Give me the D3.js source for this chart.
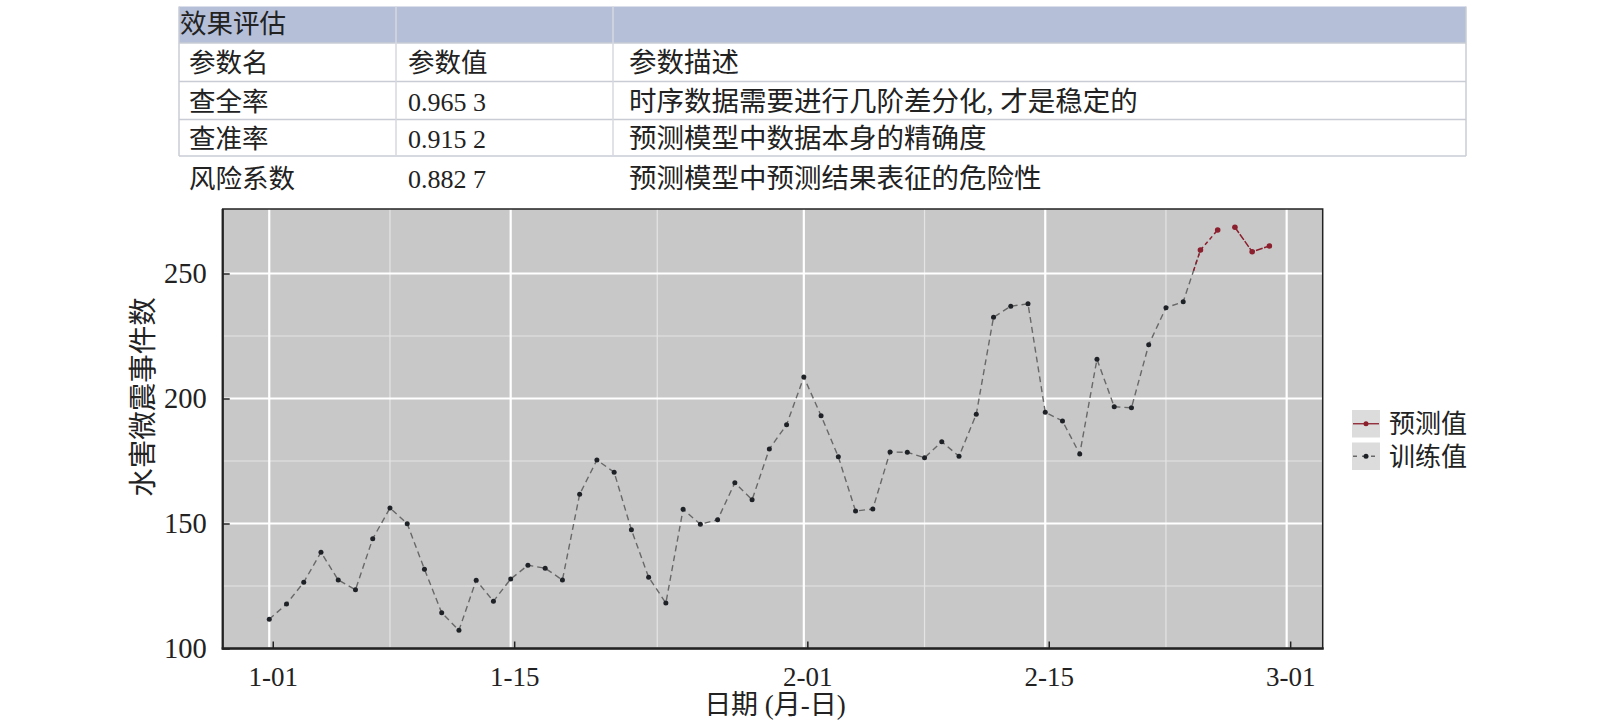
<!DOCTYPE html>
<html>
<head>
<meta charset="utf-8">
<script src="https://cdn.jsdelivr.net/npm/d3@7"></script>
<style>
  body { margin: 0; background: #fff; }
  svg text { font-family: "Liberation Serif", "Noto Sans CJK SC", serif; fill: #222; }
</style>
</head>
<body>
<div id="chart-container"></div>
<script>
// table content
var tableTitle = "效果评估";
var tableCols = ["参数名", "参数值", "参数描述"];
var paramNames = ["查全率", "查准率", "风险系数"];
var paramValues = ["0.965 3", "0.915 2", "0.882 7"];
var paramDesc = ["时序数据需要进行几阶差分化, 才是稳定的", "预测模型中数据本身的精确度", "预测模型中预测结果表征的危险性"];

// training series: one value per day from 1-01 to 2-24 (last point joins the forecast)
var trainStart = "2021-01-01";
var trainValues = [111.7, 117.8, 126.5, 138.5, 127.4, 123.5, 143.9, 156.2, 149.9, 131.7,
  114.3, 107.3, 127.3, 118.9, 127.8, 133.3, 132.1, 127.4, 161.7, 175.4,
  170.5, 147.5, 128.5, 118.2, 155.7, 149.7, 151.5, 166.3, 159.5, 179.8,
  189.5, 208.6, 193.1, 176.7, 155.0, 155.8, 178.6, 178.5, 176.3, 182.7,
  176.9, 193.7, 232.5, 236.9, 237.9, 194.5, 191.0, 177.8, 215.7, 196.7,
  196.3, 221.5, 236.3, 238.7, 259.4];

// forecast series 2-24 .. 2-28, seg = which line piece it belongs to
var predDates = ["2021-02-24", "2021-02-25", "2021-02-26", "2021-02-27", "2021-02-28"];
var predValues = [259.4, 267.4, 268.5, 258.7, 261.0];
var predSeg = [1, 1, 2, 2, 2];

var xTickDates = ["2021-01-01", "2021-01-15", "2021-02-01", "2021-02-15", "2021-03-01"];
var xTickLabels = ["1-01", "1-15", "2-01", "2-15", "3-01"];
var xMinorDates = ["2021-01-08T00:00", "2021-01-23T12:00", "2021-02-08T00:00", "2021-02-22T00:00"];
var yTicks = [100, 150, 200, 250];
var yMinor = [125, 175, 225];
var legendLabels = ["预测值", "训练值"];

var width = 1600, height = 723;
var plot = {left: 222.7, right: 1322.7, top: 209, bottom: 648.5};
var trainColor = "#686868", predColor = "#8c1f2d";

var parse = d3.utcParse("%Y-%m-%d");
var parseT = d3.utcParse("%Y-%m-%dT%H:%M");
var day = 864e5;

var svg = d3.select("#chart-container")
  .append("svg")
    .attr("width", width)
    .attr("height", height);

/* ---------- TABLE ---------- */
var tbl = {left: 179, right: 1466, x1: 396, x2: 613};
var rowY = [6.5, 43, 81.6, 119.4, 156];
var tg = svg.append("g");
tg.append("rect")
  .attr("x", tbl.left).attr("y", rowY[0])
  .attr("width", tbl.right - tbl.left).attr("height", rowY[1] - rowY[0])
  .attr("fill", "#b5bfd7");
rowY.slice(1).forEach(function(y) {
  tg.append("line").attr("x1", tbl.left).attr("x2", tbl.right).attr("y1", y).attr("y2", y)
    .attr("stroke", "#c9ccd4").attr("stroke-width", 1.5);
});
[tbl.left, tbl.x1, tbl.x2, tbl.right].forEach(function(x, i) {
  tg.append("line").attr("x1", x).attr("x2", x).attr("y1", rowY[0]).attr("y2", rowY[4])
    .attr("stroke", (i == 1 || i == 2) ? "#d6d9e0" : "#c9ccd4").attr("stroke-width", 1.5);
});
var fs = 26.5, fsNum = 26, fsDesc = 27.5;
tg.append("text").attr("x", 180).attr("y", 33).attr("font-size", fs).text(tableTitle);
var colX = [189, 408, 629];
var textY = [72, 111, 148, 188];
tableCols.forEach(function(c, i) {
  tg.append("text").attr("x", colX[i]).attr("y", textY[0]).attr("font-size", i == 2 ? fsDesc : fs).text(c);
});
paramNames.forEach(function(n, i) {
  tg.append("text").attr("x", colX[0]).attr("y", textY[i + 1]).attr("font-size", fs).text(n);
  tg.append("text").attr("x", colX[1]).attr("y", textY[i + 1]).attr("font-size", fsNum).text(paramValues[i]);
  tg.append("text").attr("x", colX[2]).attr("y", textY[i + 1]).attr("font-size", fsDesc).text(paramDesc[i]);
});

/* ---------- CHART ---------- */
var t0 = parse(trainStart);
var xScale = d3.scaleUtc()
  .domain([new Date(t0.getTime() - 2.70 * day), new Date(t0.getTime() + 61.09 * day)])
  .range([plot.left, plot.right]);
var yScale = d3.scaleLinear()
  .domain([100, 275.8])
  .range([plot.bottom, plot.top]);

var train = trainValues.map(function(v, i) { return {date: new Date(t0.getTime() + i * day), value: v}; });
var pred = predValues.map(function(v, i) { return {date: parse(predDates[i]), value: v, seg: predSeg[i]}; });

svg.append("rect")
  .attr("x", plot.left).attr("y", plot.top)
  .attr("width", plot.right - plot.left).attr("height", plot.bottom - plot.top)
  .attr("fill", "#c8c8c8");

// grid
var grid = svg.append("g");
yMinor.forEach(function(v) {
  grid.append("line").attr("x1", plot.left).attr("x2", plot.right)
    .attr("y1", yScale(v)).attr("y2", yScale(v))
    .attr("stroke", "#e4e4e4").attr("stroke-width", 1.2);
});
xMinorDates.forEach(function(d) {
  var x = xScale(parseT(d));
  grid.append("line").attr("x1", x).attr("x2", x).attr("y1", plot.top).attr("y2", plot.bottom)
    .attr("stroke", "#e4e4e4").attr("stroke-width", 1.2);
});
yTicks.forEach(function(v) {
  grid.append("line").attr("x1", plot.left).attr("x2", plot.right)
    .attr("y1", yScale(v)).attr("y2", yScale(v))
    .attr("stroke", "#fff").attr("stroke-width", 2.2);
});
xTickDates.forEach(function(d) {
  var x = xScale(parse(d));
  grid.append("line").attr("x1", x).attr("x2", x).attr("y1", plot.top).attr("y2", plot.bottom)
    .attr("stroke", "#fff").attr("stroke-width", 2.2);
});

// lines
var line = d3.line()
  .x(function(d) { return xScale(d.date); })
  .y(function(d) { return yScale(d.value); });

svg.append("path").datum(train)
  .attr("d", line)
  .attr("fill", "none")
  .attr("stroke", trainColor)
  .attr("stroke-width", 1.4)
  .attr("stroke-dasharray", "6,4");

// red overlay on the upper part of the join to the forecast
var joinPts = [train[train.length - 2], train[train.length - 1]];
var jx0 = xScale(joinPts[0].date), jy0 = yScale(joinPts[0].value);
var jx1 = xScale(joinPts[1].date), jy1 = yScale(joinPts[1].value);
svg.append("line")
  .attr("x1", jx0 + (jx1 - jx0) * 0.6).attr("y1", jy0 + (jy1 - jy0) * 0.6)
  .attr("x2", jx1).attr("y2", jy1)
  .attr("stroke", predColor).attr("stroke-width", 1.5).attr("stroke-dasharray", "4,3");

[1, 2].forEach(function(s) {
  svg.append("path").datum(pred.filter(function(d) { return d.seg == s; }))
    .attr("d", line)
    .attr("fill", "none")
    .attr("stroke", predColor)
    .attr("stroke-width", 1.5)
    .attr("stroke-dasharray", s == 1 ? "4,3" : "7,1.5");
});

svg.append("g")
  .selectAll("circle")
  .data(train.slice(0, train.length - 1))
  .enter()
  .append("circle")
    .attr("cx", function(d) { return xScale(d.date); })
    .attr("cy", function(d) { return yScale(d.value); })
    .attr("r", 2.5)
    .style("fill", "#1e2126");

svg.append("g")
  .selectAll("circle")
  .data(pred)
  .enter()
  .append("circle")
    .attr("cx", function(d) { return xScale(d.date); })
    .attr("cy", function(d) { return yScale(d.value); })
    .attr("r", 2.8)
    .style("fill", predColor);

// frame
svg.append("rect")
  .attr("x", plot.left).attr("y", plot.top)
  .attr("width", plot.right - plot.left).attr("height", plot.bottom - plot.top)
  .attr("fill", "none").attr("stroke", "#222").attr("stroke-width", 1.5);

// axes (inward ticks)
var xAxis = d3.axisBottom(xScale)
  .tickValues(xTickDates.map(parse))
  .tickFormat(function(d, i) { return xTickLabels[i]; })
  .tickSizeInner(-7).tickSizeOuter(0).tickPadding(18);
var gx = svg.append("g")
  .attr("transform", "translate(3.5," + plot.bottom + ")")
  .call(xAxis);
gx.select(".domain").remove();
gx.selectAll(".tick line").attr("stroke", "#222").attr("stroke-width", 1.5);
gx.selectAll(".tick text").attr("font-size", 27).attr("font-family", null).attr("fill", "#222");
svg.append("line").attr("x1", plot.left - 1).attr("x2", plot.right + 1)
  .attr("y1", plot.bottom).attr("y2", plot.bottom).attr("stroke", "#222").attr("stroke-width", 2.5);

var yAxis = d3.axisLeft(yScale)
  .tickValues(yTicks)
  .tickSizeInner(-7).tickSizeOuter(0).tickPadding(16);
var gy = svg.append("g")
  .attr("transform", "translate(" + plot.left + ",0)")
  .call(yAxis);
gy.select(".domain").remove();
gy.selectAll(".tick line").attr("stroke", "#222").attr("stroke-width", 1.5);
gy.selectAll(".tick text").attr("font-size", 28.5).attr("font-family", null).attr("fill", "#222");
svg.append("line").attr("x1", plot.left).attr("x2", plot.left)
  .attr("y1", plot.top).attr("y2", plot.bottom + 1).attr("stroke", "#222").attr("stroke-width", 2.2);

// axis titles
svg.append("text")
  .attr("x", 775).attr("y", 714)
  .attr("text-anchor", "middle").attr("font-size", 27)
  .text("日期 (月-日)");
svg.append("text")
  .attr("transform", "translate(153,397) rotate(-90)")
  .attr("text-anchor", "middle").attr("font-size", 28.5)
  .text("水害微震事件数");

// legend
var leg = svg.append("g").attr("transform", "translate(1352,410)");
var legColors = [predColor, trainColor];
legendLabels.forEach(function(lbl, i) {
  var g = leg.append("g").attr("transform", "translate(0," + (i * 32.5) + ")");
  g.append("rect").attr("width", 28).attr("height", 27.5).attr("fill", "#dcdcdc");
  g.append("line").attr("x1", 1).attr("x2", 27).attr("y1", 13.75).attr("y2", 13.75)
    .attr("stroke", legColors[i]).attr("stroke-width", 1.3)
    .attr("stroke-dasharray", i == 0 ? null : "4,5");
  g.append("circle").attr("cx", 14).attr("cy", 13.75).attr("r", 2.5)
    .attr("fill", i == 0 ? predColor : "#1e2126");
  g.append("text").attr("x", 37).attr("y", 23).attr("font-size", 26).text(lbl);
});
</script>
</body>
</html>
